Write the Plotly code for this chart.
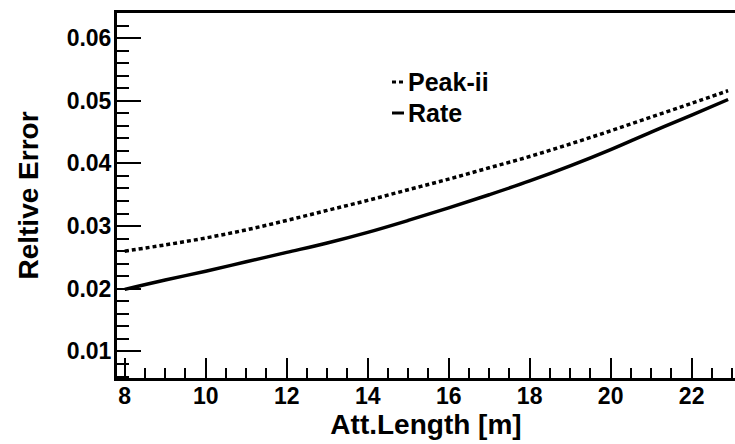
import plotly.graph_objects as go

# Data
att_length = [8, 9, 10, 11, 12, 13, 14, 15, 16, 17, 18, 19, 20, 21, 22, 22.9]
rate_err = [0.0199, 0.0214, 0.0228, 0.0243, 0.0258, 0.0273, 0.0290, 0.0309,
            0.0329, 0.0350, 0.0372, 0.0396, 0.0422, 0.0450, 0.0477, 0.0502]
peak_err = [0.0260, 0.0270, 0.0281, 0.0294, 0.0309, 0.0325, 0.0341, 0.0358,
            0.0375, 0.0393, 0.0411, 0.0431, 0.0452, 0.0474, 0.0496, 0.0516]
legend_names = ["Peak-ii", "Rate"]

W, H = 735, 444
L, R, T, B = 117, 0, 13, 66
FONT = "Liberation Sans"

fig = go.Figure()
fig.add_trace(go.Scatter(x=att_length, y=peak_err, mode="lines", name=legend_names[0],
                         line=dict(color="black", width=3.5, dash="4px,3px", shape="spline")))
fig.add_trace(go.Scatter(x=att_length, y=rate_err, mode="lines", name=legend_names[1],
                         line=dict(color="black", width=3.5, shape="spline")))

axis_common = dict(showgrid=False, zeroline=False, showline=True, linecolor="black",
                   linewidth=3, ticks="inside", tickcolor="black", tickwidth=2,
                   tickfont=dict(family=FONT, size=23, color="black", weight="bold"))

fig.update_xaxes(range=[7.81, 23.07], dtick=2, tick0=0, ticklen=20, mirror=True,
                 ticklabelstandoff=-5,
                 minor=dict(dtick=0.5, ticklen=10, ticks="inside", tickcolor="black", tickwidth=2),
                 title=dict(text="Att.Length [m]", standoff=0,
                            font=dict(family=FONT, size=28, color="black", weight="bold")),
                 **axis_common)
fig.update_yaxes(range=[0.00576, 0.0640], dtick=0.01, tick0=0, ticklen=24, tickformat=".2f",
                 ticklabelstandoff=-2,
                 minor=dict(dtick=0.002, ticklen=12, ticks="inside", tickcolor="black", tickwidth=2),
                 title=dict(text="Reltive Error", standoff=20,
                            font=dict(family=FONT, size=28, color="black", weight="bold")),
                 **axis_common)

# Legend drawn as text with short line samples
def px2paper_x(px):
    return (px - L) / (W - L - R)

def py2paper_y(py):
    return (H - B - py) / (H - T - B)

legend_rows = [(82, "4px,3px"), (113, "solid")]
for (py, dash), name in zip(legend_rows, legend_names):
    fig.add_shape(type="line", xref="paper", yref="paper",
                  x0=px2paper_x(392), x1=px2paper_x(404),
                  y0=py2paper_y(py), y1=py2paper_y(py),
                  line=dict(color="black", width=3, dash=dash))
    fig.add_annotation(xref="paper", yref="paper", x=px2paper_x(406), y=py2paper_y(py),
                       xanchor="left", yanchor="middle", showarrow=False, text=name,
                       font=dict(family=FONT, size=25, color="black", weight="bold"))

fig.update_layout(width=W, height=H, margin=dict(l=L, r=R, t=T, b=B, autoexpand=False),
                  paper_bgcolor="white", plot_bgcolor="white", showlegend=False)

fig.write_html("out.html")
